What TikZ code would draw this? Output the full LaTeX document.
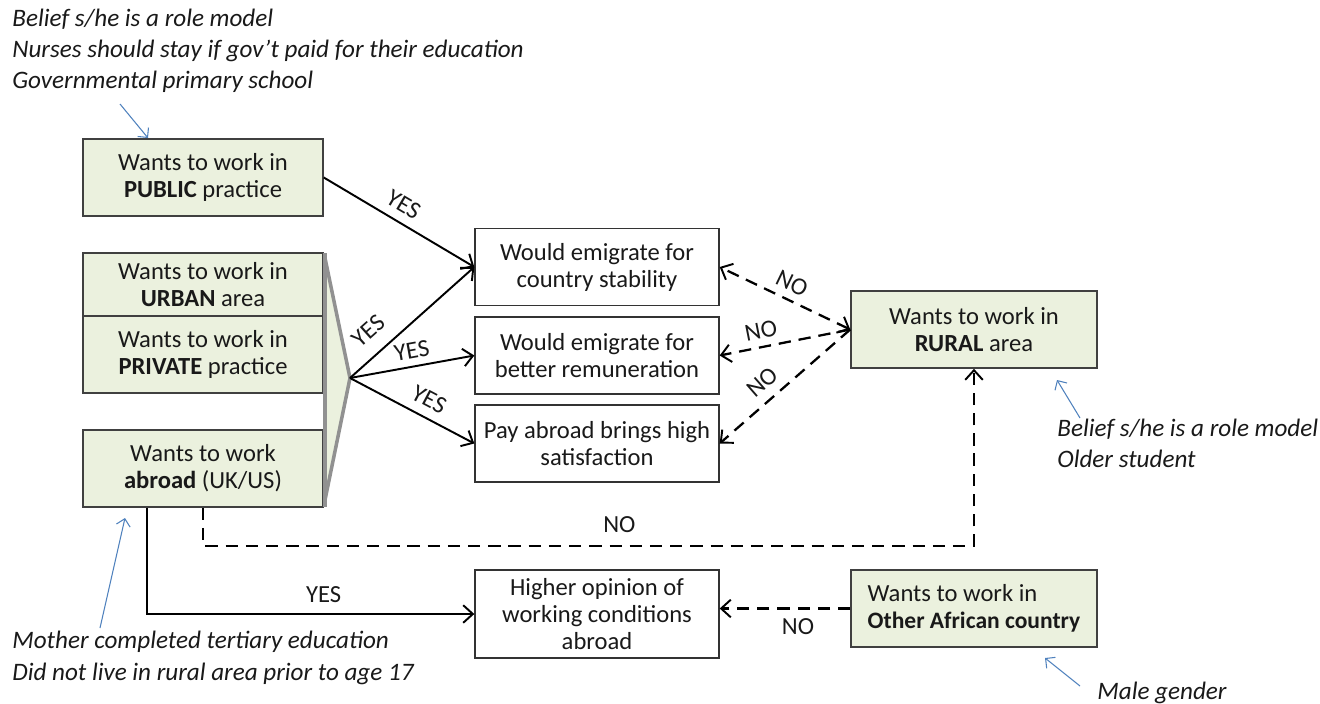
\documentclass[tikz,border=0pt]{standalone}
\usepackage{fontspec}
\setmainfont{Carlito}
\usetikzlibrary{arrows.meta,calc}
\definecolor{boxgreen}{RGB}{235,241,222}
\definecolor{annblue}{RGB}{79,129,189}
\definecolor{bracketgray}{RGB}{145,145,145}
\newcommand{\boxfont}{\fontsize{14}{15.4}\selectfont}
\newcommand{\annfont}{\fontsize{14.3}{17.8}\selectfont\itshape}
\begin{document}
\begin{tikzpicture}[x=0.02cm,y=-0.02cm,
  gbox/.style={draw=black!75, fill=boxgreen, line width=0.9pt, minimum width=4.8cm, minimum height=1.54cm, align=center, inner sep=0pt, font=\boxfont, text=black!90},
  wbox/.style={draw=black!80, fill=white, line width=0.8pt, minimum width=4.88cm, minimum height=1.54cm, align=center, inner sep=0pt, font=\boxfont, text=black!90},
  yesline/.style={line width=1.1pt, -{Straight Barb[length=5.5pt,width=10pt,line width=1.1pt]}},
  noline/.style={line width=1.3pt, dash pattern=on 7pt off 4.5pt, -{Straight Barb[length=5.5pt,width=10pt,line width=1.1pt]}},
  lbl/.style={font=\boxfont, text=black!90, inner sep=2pt},
  ann/.style={font=\annfont, text=black!90, align=left, anchor=west, inner sep=0pt},
  annarrow/.style={draw=annblue, line width=0.6pt, -{Straight Barb[length=4pt,width=8pt,line width=0.6pt]}}
]
\useasboundingbox (0,0) rectangle (1320,704);

% left boxes
\node[gbox] (pub) at (203,177.5) {Wants to work in\\\textbf{PUBLIC} practice};
\node[gbox, minimum height=1.26cm] (urb) at (203,284.5) {Wants to work in\\\textbf{URBAN} area};
\node[gbox] (pri) at (203,354.5) {Wants to work in\\\textbf{PRIVATE} practice};
\node[gbox] (abr) at (203,468.5) {Wants to work\\\textbf{abroad} (UK/US)};

% bracket
\fill[boxgreen] (325,255) -- (350,378) -- (325,505) -- cycle;
\draw[bracketgray, line width=2.4pt] (325,253) -- (325,507);
\draw[bracketgray, line width=2pt, line join=miter] (325,258) -- (350,378) -- (325,500);
\coordinate (apex) at (350,378);

% middle boxes
\node[wbox] (cs) at (597,267) {Would emigrate for\\country stability};
\node[wbox] (rem) at (597,355.5) {Would emigrate for\\better remuneration};
\node[wbox] (pay) at (597,443.5) {Pay abroad brings high\\satisfaction};
\node[wbox, minimum height=1.76cm] (hi) at (597,614) {Higher opinion of\\working conditions\\abroad};

% right boxes
\node[gbox, minimum width=4.92cm] (rur) at (974,329.5) {Wants to work in\\\textbf{RURAL} area};
\node[gbox, minimum width=4.92cm, align=left] (oth) at (974,608.5) {Wants to work in\\{\fontsize{13.4}{15.4}\selectfont\textbf{Other African country}}};

% YES connectors
\draw[yesline] (pub.east) -- node[lbl, pos=0.47, above=3pt, sloped] {YES} (cs.west);
\draw[yesline] (apex) -- node[lbl, pos=0.27, above=6pt, sloped] {YES} (cs.west);
\draw[yesline] (apex) -- node[lbl, pos=0.52, above=2pt, sloped] {YES} (rem.west);
\draw[yesline] (apex) -- node[lbl, pos=0.57, above=3pt, sloped] {YES} (pay.west);

% NO connectors from rural
\draw[noline, {Straight Barb[length=5.5pt,width=10pt,line width=1.1pt]}-{Straight Barb[length=5.5pt,width=10pt,line width=1.1pt]}] (rur.west) -- node[lbl, pos=0.5, above=2pt, sloped] {NO} (cs.east);
\draw[noline] (rur.west) -- node[lbl, pos=0.66, above=2pt, sloped] {NO} (rem.east);
\draw[noline] (rur.west) -- node[lbl, pos=0.58, above=3pt, sloped] {NO} (pay.east);

% abroad connectors
\draw[noline] (abr.south) -- ++(0,38) -| node[lbl, pos=0.27, above, yshift=5pt] {NO} (rur.south);
\draw[yesline] ($(abr.south)+(-56,0)$) |- node[lbl, pos=0.77, above, yshift=4pt] {YES} (hi.west);
\draw[noline] (oth.west) -- node[lbl, pos=0.4, below, yshift=-3pt] {NO} (oth.west -| hi.east);

% annotations
\node[ann] (a1) at (12,51) {Belief s/he is a role model\\Nurses should stay if gov’t paid for their education\\Governmental primary school};
\coordinate (a1t) at (120,104);
\draw[annarrow] (a1t) -- (148,138);
\node[ann] (a2) at (1057,443) {Belief s/he is a role model\\Older student};
\coordinate (a2t) at (1080,418);
\draw[annarrow] (a2t) -- (1057,380);
\node[ann] (a3) at (12,658) {Mother completed tertiary education\\Did not live in rural area prior to age 17};
\coordinate (a3t) at (100,628);
\draw[annarrow] (a3t) -- (125,518);
\node[ann] (a4) at (1097,693) {Male gender};
\coordinate (a4t) at (1080,686);
\draw[annarrow] (a4t) -- (1045,658);
\end{tikzpicture}
\end{document}
